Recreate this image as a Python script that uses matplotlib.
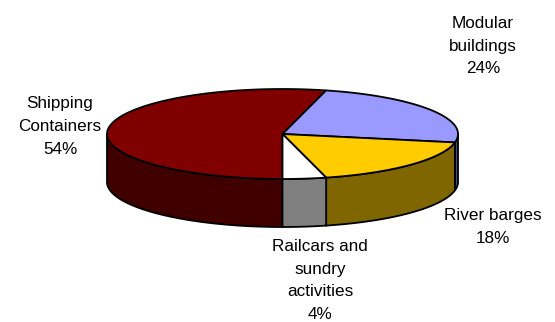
import numpy as np
import matplotlib
matplotlib.use("Agg")
import matplotlib.pyplot as plt

plt.rcParams['font.family'] = ['Liberation Sans', 'DejaVu Sans']

# clockwise from straight down
names = ["Shipping\nContainers\n54%", "Modular\nbuildings\n24%", "River barges\n18%",
         "Railcars and\nsundry\nactivities\n4%"]
values = [54, 24, 18, 4]
top_colors = ["#800000", "#9999ff", "#ffcc00", "#ffffff"]
side_colors = ["#400000", "#4d4d80", "#806600", "#808080"]
label_x = [60, 483, 493, 320]
label_y = [126.5, 46, 227, 280.5]

fig = plt.figure(figsize=(5.55, 3.22), dpi=100)
ax = fig.add_axes([0, 0, 1, 1])
ax.set_xlim(0, 555)
ax.set_ylim(322, 0)
ax.axis("off")

cx, cy = 282.5, 134
rx, ry = 175.5, 45
depth = 48


def point(a):
    return cx + rx * np.sin(a), cy - ry * np.cos(a)


edges = np.radians(180 + np.cumsum([0] + values) * 3.6)

# side walls first, only the front half of the rim shows
for i in range(len(values)):
    a = np.linspace(edges[i], edges[i + 1], 200)
    x, y = point(a)
    front = np.cos(a) <= 0
    if front.any():
        x, y = x[front], y[front]
        ax.fill(np.r_[x, x[::-1]], np.r_[y, y[::-1] + depth],
                fc=side_colors[i], ec="black", lw=1.3, zorder=2)

# top of the pie
for i in range(len(values)):
    a = np.linspace(edges[i], edges[i + 1], 200)
    x, y = point(a)
    ax.fill(np.r_[cx, x], np.r_[cy, y], fc=top_colors[i], ec="black", lw=1.3, zorder=3)

for i in range(len(values)):
    ax.text(label_x[i], label_y[i], names[i], ha="center", va="center",
            fontsize=12.3, color="black", linespacing=1.65, zorder=4)

fig.savefig("out.png", dpi=100)
